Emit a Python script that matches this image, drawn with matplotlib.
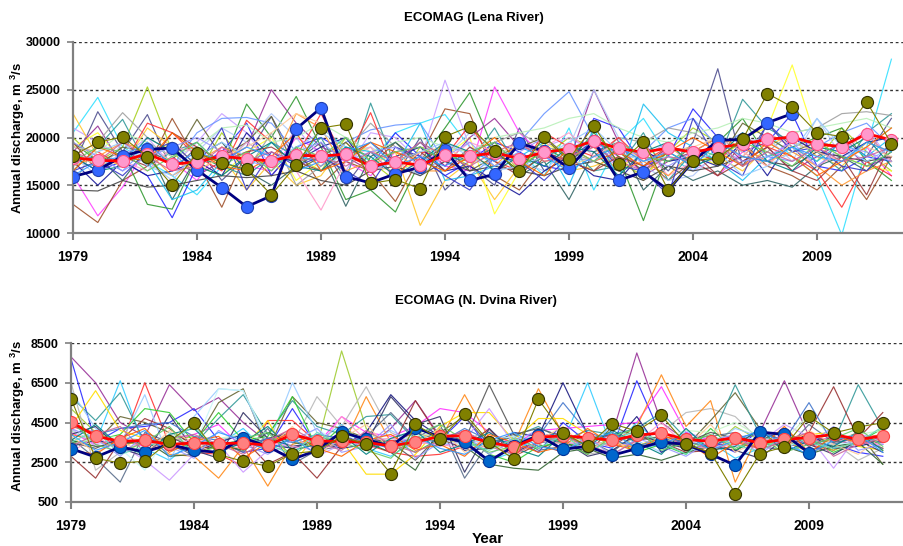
import matplotlib
matplotlib.use("Agg")
import matplotlib.pyplot as plt
import numpy as np

plt.rcParams['font.family'] = ['Liberation Sans', 'DejaVu Sans']
plt.rcParams['mathtext.fontset'] = 'custom'
plt.rcParams['mathtext.rm'] = 'Liberation Sans'
plt.rcParams['mathtext.bf'] = 'Liberation Sans:bold'

years = list(range(1979, 2013))
xtick_years = [1979, 1984, 1989, 1994, 1999, 2004, 2009]

# ---------------- Lena River ----------------
lena_yticks = [10000, 15000, 20000, 25000, 30000]
lena_obs = [15900, 16600, 18050, 18750, 18900, 16600, 14750, 12750, 13900, 20900,
            23100, 15900, 15250, 16200, 16900, 18650, 15500, 16150, 19400, 18600,
            16800, 19600, 15500, 16400, 14500, 17500, 19700, 19800, 21550, 22500]
lena_olive = [18100, 19500, 20050, 18000, 15000, 18400, 17350, 16650, 14000, 17100,
              21000, 21400, 15200, 15600, 14650, 20100, 21150, 18600, 16450, 20100,
              17750, 21200, 17250, 19550, 14500, 17550, 17850, 19800, 24600, 23200,
              20500, 20100, 23750, 19350]
lena_mean = [17900, 17600, 17550, 18300, 17200, 17450, 18050, 17750, 17550, 18150,
             18050, 18250, 17000, 17450, 17100, 18150, 18050, 18400, 17800, 18450,
             18800, 19650, 18850, 18450, 18900, 18450, 18950, 19300, 19800, 20050,
             19300, 19050, 20400, 19750]

lena_members = [
    [20500,24200,19000,17500,16000,14000,17000,19500,18000,16500,21000,19000,17500,20500,21500,22400,19000,17000,18500,16000,21000,14500,19500,22000,18000,16500,19000,17000,20500,18000,16000,9800,19000,28200],
    [20000,17500,19000,25300,18500,16000,20500,17000,19500,18000,16500,20000,17500,15500,19000,18500,17000,19500,16500,18000,20000,19000,17500,16000,18500,21000,19500,18000,20500,19000,17500,21000,18500,16500],
    [17000,22700,18500,22400,16500,19000,15500,18000,22200,17500,19500,15000,18500,16000,20000,14500,17000,15000,21000,16500,18000,20000,17500,19000,16500,19500,27200,17000,21500,19000,16500,20000,18000,22000],
    [16000,11800,14800,19000,17500,15500,19000,17000,16500,20000,18500,17500,16000,18500,19000,17000,16500,25300,20500,18000,17000,19500,18000,16500,19000,17500,16000,18500,17000,20000,18500,17500,19000,16000],
    [13000,11100,15500,17000,22000,17500,12700,18500,16000,19000,15000,17500,16500,13300,18000,23000,22500,16000,14500,18000,17500,16500,19000,18000,15500,17500,16000,19500,17000,16000,14500,17000,13500,18000],
    [21000,19500,18000,20000,17000,19500,22500,20500,17000,21000,18000,16500,20500,20000,17500,26000,19000,18000,17500,19000,20000,18500,17000,18000,19500,16500,18000,19000,17500,20000,19000,18500,21000,17500],
    [18000,16500,17500,16000,11600,17000,18500,21500,16000,19000,20000,18500,17000,20500,18000,16000,17500,19500,18500,17000,16500,22000,21000,17000,18000,23000,20000,18500,19500,22500,17000,16500,18000,17500],
    [22500,18000,17000,21000,19000,16500,18000,14500,17500,15000,16000,19500,17000,18500,10800,15500,17500,13500,17000,18500,16500,17000,18000,15500,19000,17500,18000,16500,19000,20500,18000,17000,19500,18500],
    [19000,20500,17500,18000,19500,17000,16000,18500,20000,15500,17500,18000,19000,16500,17500,18000,20000,12000,16500,19500,18000,17500,16500,19000,17500,18500,17000,20000,21000,27600,19500,18000,17000,16500],
    [18500,21200,17000,19500,18000,16000,17500,19000,25000,21500,19000,18000,16500,17500,19500,17000,20000,22000,19000,18500,17500,25000,19500,16000,17500,18500,20000,17500,19000,16500,18000,19500,17000,18000],
    [19500,17500,18500,13000,12500,18000,17000,23500,20000,24300,19000,13500,14500,12200,17500,21000,24700,18500,16500,19000,17500,20500,18000,11300,18500,17000,19500,22000,18000,19000,20000,21000,17500,15500],
    [16500,19000,21900,17000,18500,19500,17000,16000,18000,17500,20000,15500,23600,17000,19500,18000,17500,21000,16500,18000,19000,16500,17000,20500,15500,18500,17500,24000,21000,19500,18500,16500,20500,22500],
    [17500,18000,16500,19000,17000,20500,22000,22100,21500,18500,17000,19500,20800,21300,21500,17500,16000,18000,19500,22500,24800,20000,17500,18500,21000,22000,19000,20500,18000,17500,19000,20500,21500,19000],
    [15000,19500,22600,20000,18500,19000,17500,16500,20500,15000,17000,18500,21500,19000,17500,19000,18500,19500,20500,19000,18500,17500,20000,19500,21000,20500,19000,17000,18500,20500,21000,22500,22700,22300],
    [18000,16000,19500,17500,15500,18500,21000,19500,22500,20000,16500,18500,19000,17500,16000,18000,20500,19000,17500,16500,19000,25000,20000,17000,15500,16000,18500,19500,20000,17500,22000,18000,19000,21000],
    [19000,18500,17000,21500,20500,18000,16500,21800,19500,18000,22500,17500,22600,16000,18500,18000,21300,17500,16500,20500,19000,18000,20000,17500,19000,18500,17500,20000,19000,18000,16500,12700,17500,16000],
    [18500,17000,19000,18500,17500,21900,18000,19500,22200,16500,18000,19500,17000,19500,17500,19000,16500,18000,19000,20000,17500,19500,18500,16500,18500,19000,17500,21500,20000,18500,19500,19000,20500,17500],
    [17500,15000,17500,16000,16500,17500,16000,20500,18000,17500,19000,20000,16500,18000,19000,16500,17000,15500,14000,16500,18000,16000,15500,18500,17500,18000,17000,19500,16000,20000,18500,18000,19500,20000],
    [19000,18500,20500,19500,18000,19000,21000,21300,19500,20000,21500,20000,18500,19500,20000,19000,18500,20000,20500,21000,22000,22500,21000,20000,19500,20500,21000,22000,21500,20500,21000,21500,22000,21000],
    [17500,18000,15500,19000,13500,18000,19500,16500,15000,17000,18500,12800,18000,19500,17000,18500,17500,19000,16000,17500,13500,18500,19500,14500,17000,15500,16500,15000,15500,14800,17000,18000,16500,18500],
    [18000,19500,17500,16500,19000,18500,17000,19500,18000,16500,12400,17500,19000,15500,18000,17500,19500,18500,17000,19000,20500,18000,17500,19000,16000,17500,19500,18000,20500,19000,17000,18500,20500,17500],
    [17000,18000,19500,18500,16000,17500,19000,18000,17000,22500,21000,16500,17500,18500,16500,16500,18000,17000,19500,17500,18000,19000,16500,17500,16000,18500,20000,19000,17500,18500,17000,15000,16500,17500],
    [14500,14400,15500,14800,15000,15500,16000,15800,16000,16500,15500,15000,16500,17000,16000,17500,16500,17000,16500,16000,17000,17500,16500,15500,17000,16500,17000,18000,17500,17000,18500,18000,17500,18000],
    [18500,17000,18000,17500,13500,14500,17500,16500,19500,18000,17500,19000,18500,17000,21500,15500,16000,17000,18000,19500,15000,21000,15500,23500,20500,19000,17500,15500,18000,19000,17500,19500,18000,20000],
    [16500,17500,16000,18500,19500,17000,21000,14500,18500,17000,18000,16500,15000,19000,18000,16000,14500,18000,17500,15500,18000,19500,17000,16500,14000,22000,17500,16000,21500,18500,19000,17000,16500,19500],
    [19500,16500,18000,17000,20500,19000,17500,18500,19000,17500,16500,18000,19500,17500,18500,16500,19000,17500,16000,18500,17500,16500,18000,17000,19000,18500,16000,17500,19000,16500,15500,18000,14000,19500],
    [18500,17000,18000,19000,17500,16500,18000,19000,20500,22500,21500,18000,17000,16500,18500,19000,17500,18000,19500,18500,17000,18000,19500,17500,18500,19000,20000,18500,17000,19500,18500,17500,19000,18000],
    [17000,18500,19500,17000,16000,18000,19500,18000,17500,19000,20500,19000,16500,17500,18500,19500,18000,16500,17000,18000,19500,21000,18500,17500,18000,17500,18500,16000,17000,18500,22000,19000,17500,19000],
    [18000,16500,17000,20000,18500,17000,16000,18000,19500,17000,16500,19000,18000,16000,17500,19500,18500,16500,18000,17000,19000,18500,16000,18500,19500,17000,18000,20500,17500,16500,19000,18500,20000,17000],
    [16500,19000,18000,17500,20500,18500,17000,16500,18000,20500,16500,17500,19500,18500,17500,16500,18000,20000,17500,16000,19000,17500,18500,17000,18500,20000,18500,17000,19500,18000,16000,17500,19000,21000],
    [19500,18000,16500,18000,19000,20000,18500,17500,17000,18500,19500,17500,18500,19000,17000,18000,19500,17000,18500,20000,18000,17500,19000,18000,17000,18500,19000,17500,18000,19500,17000,19000,18500,17500],
    [17500,19000,18500,16500,18000,19500,17000,18500,16500,19000,18000,20000,17500,18500,19000,17500,18500,19500,17000,18500,19000,17500,19500,18000,17500,19000,18000,19500,18500,17000,19500,18000,17000,18500],
    [18500,17500,19500,18000,16500,17000,19000,17500,18500,17500,18000,17000,18500,17500,19500,18000,17000,18500,19500,17500,18000,19000,17500,16500,18000,17500,19500,17000,18500,17500,19000,17500,18000,19000],
    [16000,17500,18000,19500,17000,18500,17500,19000,18000,16500,17500,18500,19500,17000,18000,17000,18500,17500,19000,18000,16500,18000,19000,17500,18500,17000,19500,18000,17500,19000,18000,17500,19500,18500],
]
lena_colors = ['#33e0ff', '#a8d020', '#505090', '#ff44ff', '#a0522d', '#c8a0ff', '#2a2aff', '#ffc830',
               '#ffff30', '#993399', '#339933', '#339999', '#6a96ff', '#a0a0a0', '#b0c8f8', '#ff3333',
               '#666633', '#1a1a99', '#b8f0b8', '#336666', '#ff9ccc', '#ff9933', '#444444', '#20c0f0',
               '#3838c8', '#9c3c3c', '#ffcc99', '#99ccff', '#008080', '#ff6600', '#9999ff', '#66cc66',
               '#cc6699', '#3399ff']

# ---------------- N. Dvina River ----------------
dvina_yticks = [500, 2500, 4500, 6500, 8500]
dvina_obs = [3185, 2760, 3270, 3020, 3400, 3100, 3000, 3720, 3300, 2650,
             3100, 4020, 3650, 3300, 4240, 3770, 3520, 2560, 3300, 3850,
             3150, 3300, 2850, 3185, 3520, 3400, 2900, 2350, 4020, 3900, 2970]
dvina_olive = [5700, 2700, 2460, 2550, 3550, 4475, 2885, 2550, 2300, 2935,
               3070, 3800, 3400, 1930, 4410, 3650, 4950, 3520, 2650, 5670,
               3970, 3320, 4440, 4070, 4860, 3400, 2985, 920, 2935, 3270,
               4810, 3970, 4270, 4490]
dvina_mean = [4525, 3820, 3550, 3600, 3400, 3470, 3440, 3470, 3350, 3900,
              3570, 3550, 3500, 3320, 3520, 3800, 3840, 3500, 3270, 3770,
              3820, 3740, 3600, 3860, 3970, 3650, 3550, 3740, 3470, 3650,
              3740, 3900, 3650, 3820]

dvina_members = [
    [7800,6500,4500,3800,6400,5100,5750,4500,3500,4200,3000,3700,3200,4200,5600,3800,4000,3500,3200,3800,4000,3500,3900,8000,4500,3600,3300,3500,4000,6600,3800,3600,3400,3800],
    [7700,3500,4200,4300,4500,5200,3600,3000,3200,5200,3300,4000,3200,3500,4000,3600,4800,3200,3700,3000,4500,3500,3200,6600,3800,3400,3600,3000,4200,3500,3100,3400,3000,2800],
    [4500,3500,6600,3200,2600,3600,3400,4200,3000,3800,3500,4400,3200,2800,3600,4200,3400,2600,3000,3800,3500,6500,3200,4500,3300,4000,3500,2700,3200,3800,2700,4000,3500,3600],
    [4300,4000,3200,6500,3400,3000,2900,2300,4600,4600,3500,3800,3400,3000,2800,2900,3300,3600,3100,3500,3800,3300,3500,3200,3700,3400,3000,3600,3300,3800,3400,3100,3700,3900],
    [4000,3400,3600,3300,3500,3900,4400,3200,3700,3900,3400,4800,4000,3800,4300,5200,5000,4000,3400,4100,4200,4300,4400,4500,6300,4000,3600,3800,3400,3900,3600,3700,3500,3400],
    [5200,4000,3500,3400,3600,3800,3300,3600,3100,3700,3300,8100,4200,3000,3800,3500,3600,3200,3400,3900,3700,3600,4000,3300,3500,3800,3200,4300,3600,3400,3700,3100,3600,3900],
    [6500,2100,3000,3500,3800,3300,3600,3900,3000,3400,5800,4300,6300,4000,3400,3800,3600,4100,3000,3500,3700,2900,3100,3800,4000,5000,5200,4800,3600,3300,2900,3500,2600,3200],
    [3900,3600,3200,3800,2900,2800,1700,3300,1300,3400,3700,3200,5800,3500,4000,3600,5900,3700,3400,6200,3900,3200,3500,4300,6900,4300,5600,1500,4000,3600,3000,3400,3800,3200],
    [4100,3500,4800,4500,4000,3400,5500,6200,3100,5800,4500,4200,3700,3500,3300,4000,4800,3400,3800,3200,3600,2900,4300,3800,3500,3300,4600,6000,4200,3400,3800,3500,4000,2400],
    [5800,4600,6000,3500,3200,3400,4700,5900,3900,5600,4300,3900,4800,4900,3600,4000,3300,3500,3800,4300,3600,4100,3900,4200,5000,3700,3600,6400,3900,3300,3600,3500,6400,4200],
    [6100,4200,3400,5900,2600,4800,6200,6100,3300,6500,4000,3600,3300,4100,3500,3400,3500,3600,3100,4200,3800,3400,4300,3600,3000,4100,3400,4200,3800,3900,3500,3200,3700,3400],
    [3300,3600,3400,3700,3300,3000,3500,3900,3400,3200,3600,3300,4000,5900,4600,3800,3100,3200,4000,3800,6500,3900,3400,4800,3000,3600,3300,3100,3700,3500,3900,3200,3300,3600],
    [3700,2700,1500,4000,3500,2800,3500,3000,4200,2400,3100,3300,3800,5000,3700,4400,1700,3500,3900,3100,3300,3600,3000,4000,3200,3700,3800,4000,3300,3100,4400,3500,3700,3200],
    [2800,1700,3600,4700,4200,3300,3200,3700,2400,3000,1700,3300,3800,3100,5600,3700,3200,4200,2800,3400,3000,3600,3300,4100,3500,3000,3100,3600,3200,3500,4000,6300,3700,5000],
    [3500,3600,3900,5200,5000,3500,5000,3600,3800,5800,3200,4300,3400,3600,3000,3700,3800,2900,2500,3300,3500,3200,3700,3000,3400,2900,4200,3100,3700,3300,3600,3000,3500,4200],
    [4300,6100,4100,3700,3500,3000,3300,3200,4600,2400,3900,3600,1900,1900,2900,4300,5000,5000,3600,4700,4700,3900,3400,3300,3800,3600,3100,3600,3300,3700,3900,4000,3300,3100],
    [4200,3300,3400,2600,1600,2900,3400,2000,3100,4000,2800,3400,3500,3700,3600,3300,3600,5200,3400,3800,3600,3200,3500,3900,3600,3400,3700,3300,3500,4400,3800,2200,3900,3700],
    [3600,3300,3400,3600,2800,2900,3400,3100,4000,3500,3300,3600,3500,3000,2100,4200,3300,2400,2200,2100,3000,3200,2700,2900,2600,3000,3300,3800,3500,3300,2900,3300,3500,2400],
    [4100,3500,3200,2100,4000,3300,6200,6100,3600,3500,4200,3300,3600,3400,3500,3700,3300,3600,3800,3400,3900,3300,3600,4000,3400,3700,3200,3500,3800,3300,3600,3400,3500,3700],
    [3900,4300,3200,2800,4900,3100,2700,5000,3700,3300,3500,3200,3400,5800,4400,4800,2000,4200,3000,3500,3600,2800,3100,3900,3500,3200,3300,3100,2700,3700,3400,2900,3600,3000],
    [3400,3700,3800,3600,3400,3500,3700,3900,3600,3800,3500,3700,3900,3600,3800,4000,3700,3500,3300,3600,3400,3800,3600,3900,3700,4100,4000,4500,3800,3600,4900,3700,3900,4100],
    [3000,3800,3100,3500,3300,3700,3400,3200,3500,3300,3100,4800,3600,3700,3500,3400,3200,3300,3500,3700,3400,3600,3300,3500,4500,3300,3200,3400,3600,3700,3300,3800,3500,3400],
    [3500,3200,3700,3400,3800,3200,3500,3300,3700,4000,3500,3400,3700,3500,2600,3900,3600,6400,3900,4200,3800,3700,3900,3600,3800,3500,4000,3700,3600,4100,3300,3800,3600,3500],
    [4400,3900,4200,4400,4500,3800,3600,3300,3700,3500,3900,3700,3600,3400,3700,3500,4200,3600,3500,3800,5500,4000,3600,3300,3700,3500,3300,3700,4000,3600,5500,3400,3800,3500],
    [3800,3000,3600,2900,4100,3500,2800,3900,3200,4300,2900,3700,4400,3100,3500,4200,3000,3700,2800,3600,4300,3100,3700,2900,3900,3200,4400,3000,3600,3200,4100,3400,2900,3800],
    [4200,3700,2800,3900,3300,2700,4100,3400,2900,3600,4200,3000,3300,4400,2700,3500,3900,2900,3600,4100,3000,3800,2800,3700,3300,2800,3600,3900,2900,3800,3400,4300,3100,3400],
    [3600,4400,3300,2900,3900,4200,3000,3500,4300,3100,3400,3900,2900,3700,4100,3000,3400,4000,3200,2800,3900,3300,4100,3500,2900,4200,3100,3300,4200,3000,3600,3300,4000,3100],
    [3100,2900,3700,4200,3000,3600,3800,2700,3500,4000,3200,2800,3600,3900,3100,3400,2800,3900,3500,3000,3300,4200,3400,3100,3800,3600,2700,3500,3200,4300,3000,3800,3500,3900],
    [4600,3400,3000,3500,4300,2900,3300,3700,4000,2800,3800,3500,3100,2700,3900,4400,3600,3000,3300,3900,3500,2900,3800,4200,3100,3500,3900,3200,3700,3000,3400,3700,4200,3300],
    [3300,3900,4300,3000,3700,3900,3400,2900,3600,4200,3500,3100,4100,3400,3000,3600,4100,3300,2900,3500,3800,3400,2900,3600,4200,3100,3500,3800,3100,3600,4000,2800,3400,3700],
    [3900,3100,3500,4100,2800,3300,4000,3600,3100,3700,2900,4100,3500,3200,3800,3200,2900,3600,4000,3300,3100,3600,4000,3200,3400,3900,3100,3600,4100,3400,2900,3600,3900,3000],
    [3500,4100,2900,3300,3600,4300,3100,3800,3400,2900,4000,3400,3700,3300,3400,3900,3500,3100,3700,3200,3900,3000,3600,4100,3500,2900,3800,3400,3000,3900,3500,3200,3500,4300],
]
dvina_colors = ['#993399', '#2a2aff', '#33ccff', '#ff3333', '#ff33ff', '#a0cc33', '#b8b8b8', '#ff8a1a',
                '#666633', '#339999', '#99ccff', '#1a1a80', '#5a6e8c', '#993333', '#33cc33', '#ffdd00',
                '#cc99ff', '#336633', '#c8f8f8', '#333366', '#c8f8c8', '#ff99cc', '#555555', '#4477cc',
                '#ffcc99', '#9999ff', '#008080', '#ff6600', '#66cc66', '#cc6699', '#3399ff', '#66ddbb']


def style_axes(ax, yticks, xmax):
    ax.set_xlim(1979, xmax)
    ax.set_ylim(yticks[0], yticks[-1])
    ax.set_yticks(yticks)
    ax.set_xticks(xtick_years)
    for s in ['top', 'right']:
        ax.spines[s].set_visible(False)
    for s in ['left', 'bottom']:
        ax.spines[s].set_color('#808080')
        ax.spines[s].set_linewidth(1.6)
    ax.tick_params(axis='y', direction='out', length=4, width=1.2, color='#808080',
                   pad=5, labelsize=9)
    ax.tick_params(axis='x', direction='out', length=5, width=1.5, color='#808080',
                   pad=7, labelsize=10)
    for lab in ax.get_xticklabels() + ax.get_yticklabels():
        lab.set_fontweight('bold')
    for v in yticks[1:]:
        ax.axhline(v, color='#333333', lw=1.0, ls=(0, (2, 2)), zorder=1)


fig = plt.figure(figsize=(9.04, 5.46), dpi=100)

# Top panel
ax1 = fig.add_axes([73 / 904, 1 - 233 / 546, (904 - 73) / 904, 191 / 546])
for vals, c in zip(lena_members, lena_colors):
    ax1.plot(years, vals, color=c, lw=0.85, alpha=0.9, zorder=2)
ax1.plot(years[:len(lena_obs)], lena_obs, color='#000080', lw=2.0, marker='o', ms=8.7,
         mfc='#3366ff', mec='#2040b0', mew=0.8, zorder=4)
ax1.plot(years, lena_mean, color='#ff0000', lw=2.0, marker='o', ms=8.7,
         mfc='#ff99cc', mec='#ff5080', mew=0.8, zorder=5)
ax1.plot(years, lena_olive, color='#808000', lw=0.8, marker='o', ms=8.7,
         mfc='#808000', mec='#333300', mew=0.8, zorder=6)
style_axes(ax1, lena_yticks, 1979 + (904 - 73) / 24.8)

# Bottom panel
ax2 = fig.add_axes([71 / 904, 1 - 502 / 546, 833 / 904, 159 / 546])
for vals, c in zip(dvina_members, dvina_colors):
    ax2.plot(years, vals, color=c, lw=0.85, alpha=0.9, zorder=2)
ax2.plot(years[:len(dvina_obs)], dvina_obs, color='#000080', lw=2.0, marker='o', ms=8.7,
         mfc='#0066cc', mec='#003399', mew=0.8, zorder=4)
ax2.plot(years, dvina_mean, color='#ff0000', lw=2.0, marker='o', ms=8.7,
         mfc='#ff8080', mec='#ff4040', mew=0.8, zorder=5)
ax2.plot(years, dvina_olive, color='#808000', lw=0.8, marker='o', ms=8.7,
         mfc='#808000', mec='#333300', mew=0.8, zorder=6)
style_axes(ax2, dvina_yticks, 1979 + 833 / 24.6)

ylab = r'Annual discharge, m $^{\mathbf{3}}$/s'
fig.text(474 / 904, 1 - 18 / 546, 'ECOMAG (Lena River)', ha='center', va='center',
         fontsize=9.5, fontweight='bold')
fig.text(476 / 904, 1 - 301 / 546, 'ECOMAG (N. Dvina River)', ha='center', va='center',
         fontsize=9.5, fontweight='bold')
fig.text(18 / 904, 1 - 138 / 546, ylab, rotation=90, ha='center', va='center',
         fontsize=9.5, fontweight='bold')
fig.text(18 / 904, 1 - 416 / 546, ylab, rotation=90, ha='center', va='center',
         fontsize=9.5, fontweight='bold')
fig.text(488 / 904, 1 - 539 / 546, 'Year', ha='center', va='center',
         fontsize=11, fontweight='bold')

fig.savefig('out.png', dpi=100)
